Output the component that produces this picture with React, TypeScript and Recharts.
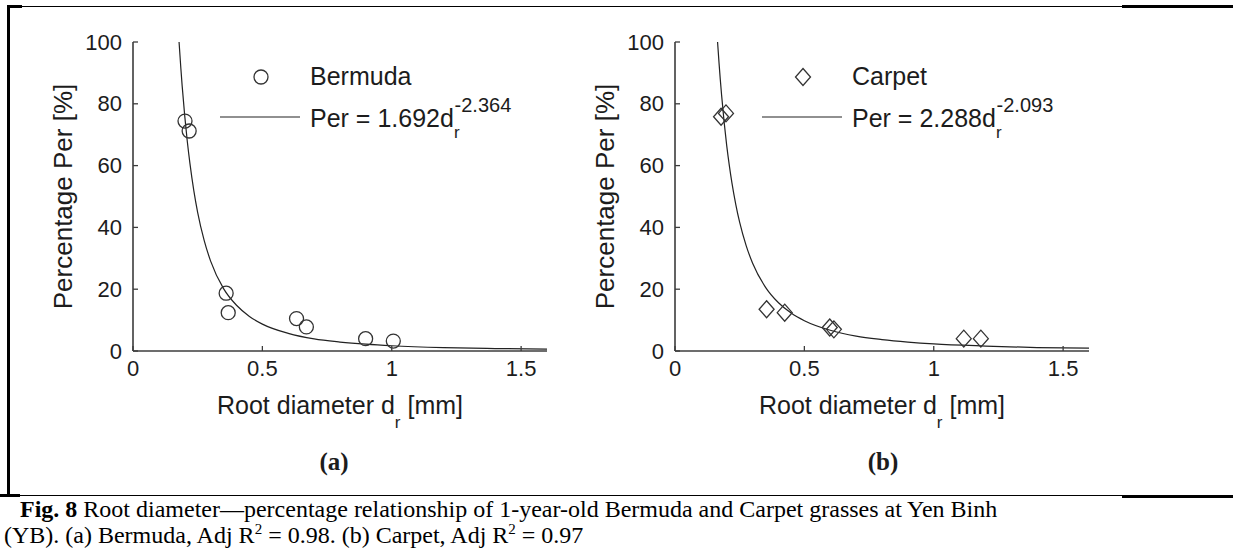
import React from 'react';
import { ComposedChart, Scatter, Line, XAxis, YAxis, Legend } from 'recharts';

const xTicks = [0, 0.5, 1, 1.5];
const yTicks = [0, 20, 40, 60, 80, 100];
const innerXTicks = [0.5, 1, 1.5];
const innerYTicks = [20, 40, 60, 80];

// measured points, diameter in mm / percentage
const bermudaDiameter = [0.201, 0.217, 0.36, 0.368, 0.632, 0.67, 0.899, 1.006];
const bermudaPercent = [74.4, 71.2, 18.7, 12.4, 10.5, 7.8, 4.0, 3.2];
const carpetDiameter = [0.178, 0.197, 0.354, 0.424, 0.598, 0.614, 1.116, 1.182];
const carpetPercent = [75.8, 76.9, 13.5, 12.4, 7.6, 7.0, 4.0, 4.0];

// fitted curves
const bermudaFitDiameter = [0.178, 0.185, 0.19, 0.2, 0.21, 0.22, 0.235, 0.25, 0.275, 0.3, 0.35, 0.4, 0.45, 0.5, 0.6, 0.7, 0.8, 0.9, 1.0, 1.2, 1.4, 1.6];
const bermudaFitPercent = [100, 91.4, 85.8, 76.0, 67.7, 60.7, 51.9, 44.8, 35.8, 29.1, 20.2, 14.8, 11.2, 8.7, 5.7, 3.9, 2.9, 2.2, 1.7, 1.1, 0.8, 0.6];
const carpetFitDiameter = [0.1645, 0.17, 0.175, 0.18, 0.19, 0.2, 0.21, 0.22, 0.235, 0.25, 0.275, 0.3, 0.35, 0.4, 0.45, 0.5, 0.6, 0.7, 0.8, 0.9, 1.0, 1.2, 1.4, 1.6];
const carpetFitPercent = [100, 93.4, 87.9, 82.9, 74.0, 66.4, 60.0, 54.4, 47.4, 41.6, 34.1, 28.4, 20.6, 15.6, 12.2, 9.8, 6.7, 4.8, 3.7, 2.9, 2.3, 1.6, 1.1, 0.9];

const SANS = "'Liberation Sans', Arial, Helvetica, sans-serif";
const SERIF = "'Liberation Serif', 'Times New Roman', serif";
const AXIS = '#3c3c3c';
const INK = '#1c1c1c';
const TICK_LEN = 5;

const toPoints = (xs: number[], ys: number[]) => xs.map((d, i) => ({ d, per: ys[i] }));

const Marker = ({ kind, cx, cy }: { kind: string; cx: number; cy: number }) => {
  if (kind === 'diamond') {
    return (
      <path
        d={`M${cx},${cy - 8.5} L${cx + 7.5},${cy} L${cx},${cy + 8.5} L${cx - 7.5},${cy} Z`}
        fill="none"
        stroke="#333"
        strokeWidth={1.3}
      />
    );
  }
  return <circle cx={cx} cy={cy} r={7} fill="none" stroke="#333" strokeWidth={1.3} />;
};

const BottomTick = (p: any) => (
  <g>
    <line x1={p.x} x2={p.x} y1={p.y} y2={p.y - TICK_LEN} stroke={AXIS} strokeWidth={1.3} />
    <text x={p.x} y={p.y + 25} textAnchor="middle" fontFamily={SANS} fontSize={22} fill={INK}>
      {p.payload.value}
    </text>
  </g>
);

const LeftTick = (p: any) => (
  <g>
    <line x1={p.x} x2={p.x + TICK_LEN} y1={p.y} y2={p.y} stroke={AXIS} strokeWidth={1.3} />
    <text x={p.x - 11} y={p.y + 7.5} textAnchor="end" fontFamily={SANS} fontSize={22} fill={INK}>
      {p.payload.value}
    </text>
  </g>
);

const TopTick = (p: any) => (
  <line x1={p.x} x2={p.x} y1={p.y} y2={p.y + TICK_LEN} stroke={AXIS} strokeWidth={1.3} />
);

const RightTick = (p: any) => (
  <line x1={p.x} x2={p.x - TICK_LEN} y1={p.y} y2={p.y} stroke={AXIS} strokeWidth={1.3} />
);

const XLabel = ({ viewBox, tag, tagX }: any) => {
  const vb = viewBox || { x: 133, y: 351, width: 414 };
  const cx = vb.x + vb.width / 2;
  return (
    <g>
      <text x={cx} y={vb.y + 63} textAnchor="middle" fontFamily={SANS} fontSize={25} fill={INK}>
        Root diameter d
        <tspan dy={14} fontSize={17}>r</tspan>
        <tspan dy={-14}> [mm]</tspan>
      </text>
      <text x={tagX} y={vb.y + 119} textAnchor="middle" fontFamily={SERIF} fontWeight="bold" fontSize={25} fill={INK}>
        {tag}
      </text>
    </g>
  );
};

const YLabel = ({ viewBox }: any) => {
  const vb = viewBox || { x: 0, y: 42, width: 133, height: 309 };
  const cy = vb.y + vb.height / 2;
  const bx = 72;
  return (
    <text
      x={bx}
      y={cy}
      transform={`rotate(-90, ${bx}, ${cy})`}
      textAnchor="middle"
      fontFamily={SANS}
      fontSize={26}
      fill={INK}
    >
      Percentage Per [%]
    </text>
  );
};

const PanelLegend = ({ name, coef, expo, marker }: any) => (
  <svg width={600} height={160} style={{ display: 'block', overflow: 'visible' }}>
    <Marker kind={marker} cx={261} cy={77} />
    <text x={310} y={85} fontFamily={SANS} fontSize={25} fill={INK}>
      {name}
    </text>
    <line x1={220} x2={300} y1={117} y2={117} stroke="#222" strokeWidth={1.2} />
    <text x={310} y={127} fontFamily={SANS} fontSize={25} fill={INK}>
      {`Per = ${coef}d`}
      <tspan dy={11} fontSize={17}>r</tspan>
      <tspan dx={-5} dy={-26} fontSize={20}>{expo}</tspan>
    </text>
  </svg>
);

const Panel = ({ points, fit, name, coef, expo, marker, tag, tagX }: any) => (
  <ComposedChart width={600} height={480} margin={{ top: 42, right: 53, bottom: 29, left: 0 }}>
    <XAxis
      dataKey="d"
      type="number"
      domain={[0, 1.6]}
      ticks={xTicks}
      interval={0}
      allowDataOverflow
      height={100}
      tickLine={false}
      tickSize={0}
      tickMargin={0}
      axisLine={{ stroke: AXIS, strokeWidth: 1.6 }}
      tick={(p: any) => <BottomTick {...p} />}
      label={<XLabel tag={tag} tagX={tagX} />}
    />
    <XAxis
      xAxisId="top"
      orientation="top"
      dataKey="d"
      type="number"
      domain={[0, 1.6]}
      ticks={innerXTicks}
      interval={0}
      allowDataOverflow
      height={0}
      tickLine={false}
      tickSize={0}
      tickMargin={0}
      axisLine={{ stroke: AXIS, strokeWidth: 1.6 }}
      tick={(p: any) => <TopTick {...p} />}
    />
    <YAxis
      type="number"
      domain={[0, 100]}
      ticks={yTicks}
      interval={0}
      allowDataOverflow
      width={133}
      tickLine={false}
      tickSize={0}
      tickMargin={0}
      axisLine={{ stroke: AXIS, strokeWidth: 1.6 }}
      tick={(p: any) => <LeftTick {...p} />}
      label={<YLabel />}
    />
    <YAxis
      yAxisId="right"
      orientation="right"
      type="number"
      domain={[0, 100]}
      ticks={innerYTicks}
      interval={0}
      allowDataOverflow
      width={0}
      tickLine={false}
      tickSize={0}
      tickMargin={0}
      axisLine={{ stroke: AXIS, strokeWidth: 1.6 }}
      tick={(p: any) => <RightTick {...p} />}
    />
    <Line
      data={fit}
      dataKey="per"
      type="monotone"
      stroke="#222"
      strokeWidth={1.2}
      dot={false}
      activeDot={false}
      isAnimationActive={false}
      name={`Per = ${coef}d_r^${expo}`}
    />
    <Scatter
      data={points}
      dataKey="per"
      name={name}
      isAnimationActive={false}
      shape={(p: any) => <Marker kind={marker} cx={p.cx} cy={p.cy} />}
    />
    <Legend
      layout="horizontal"
      align="center"
      verticalAlign="middle"
      wrapperStyle={{ left: 0, top: 0, width: 600, height: 160 }}
      content={() => <PanelLegend name={name} coef={coef} expo={expo} marker={marker} />}
    />
  </ComposedChart>
);

const Caption = () => (
  <svg width={1233} height={549} style={{ position: 'absolute', left: 0, top: 0 }}>
    <text x={20} y={517} fontFamily={SERIF} fontSize={24} fill="#000">
      <tspan fontWeight="bold">Fig. 8</tspan> Root diameter—percentage relationship of 1-year-old Bermuda and Carpet grasses at Yen Binh
    </text>
    <text x={4} y={543} fontFamily={SERIF} fontSize={24} fill="#000">
      (YB). (a) Bermuda, Adj R<tspan dy={-9} fontSize={15}>2</tspan>
      <tspan dy={9}> = 0.98. (b) Carpet, Adj R</tspan>
      <tspan dy={-9} fontSize={15}>2</tspan>
      <tspan dy={9}> = 0.97</tspan>
    </text>
  </svg>
);

const rule = (left: number, top: number, width: number, height: number) => (
  <div style={{ position: 'absolute', left, top, width, height, background: '#000' }} />
);

export default function App() {
  return (
    <div style={{ position: 'absolute', left: 0, top: 0, width: 1233, height: 549, background: '#fff', overflow: 'hidden' }}>
      {rule(7, 6, 1115, 1)}
      {rule(7, 5, 15, 3)}
      {rule(1122, 5, 111, 3)}
      {rule(7, 6, 3, 490)}
      {rule(0, 495, 1122, 1)}
      {rule(0, 494, 20, 3)}
      {rule(1122, 495, 111, 3)}
      <div style={{ position: 'absolute', left: 0, top: 0 }}>
        <Panel
          points={toPoints(bermudaDiameter, bermudaPercent)}
          fit={toPoints(bermudaFitDiameter, bermudaFitPercent)}
          name="Bermuda"
          coef="1.692"
          expo="-2.364"
          marker="circle"
          tag="(a)"
          tagX={334}
        />
      </div>
      <div style={{ position: 'absolute', left: 542, top: 0 }}>
        <Panel
          points={toPoints(carpetDiameter, carpetPercent)}
          fit={toPoints(carpetFitDiameter, carpetFitPercent)}
          name="Carpet"
          coef="2.288"
          expo="-2.093"
          marker="diamond"
          tag="(b)"
          tagX={341}
        />
      </div>
      <Caption />
    </div>
  );
}
